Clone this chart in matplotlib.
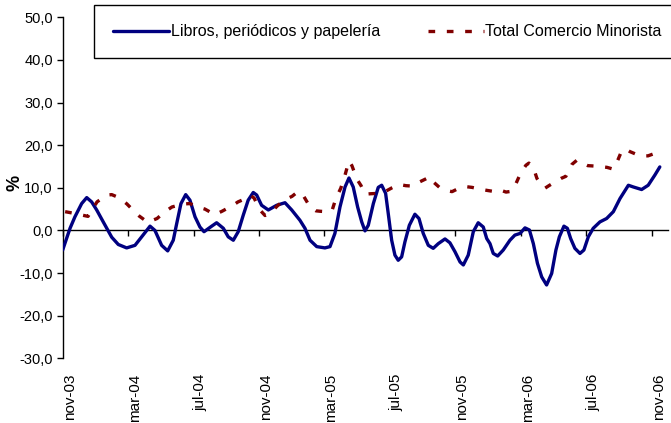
import matplotlib
matplotlib.use("Agg")
import matplotlib.pyplot as plt
from matplotlib.ticker import FuncFormatter

plt.rcParams['font.family'] = ['Liberation Sans', 'DejaVu Sans']

# x positions are months elapsed since nov-03
tick_months = [0, 4, 8, 12, 16, 20, 24, 28, 32, 36]
tick_labels = ['nov-03', 'mar-04', 'jul-04', 'nov-04', 'mar-05',
               'jul-05', 'nov-05', 'mar-06', 'jul-06', 'nov-06']

libros_x = [0.0, 0.45, 0.75, 1.16, 1.47, 1.77, 2.08, 2.48, 3.0, 3.4, 3.91, 4.42, 4.83,
            5.34, 5.64, 6.05, 6.42, 6.76, 6.97, 7.23, 7.52, 7.78, 8.09, 8.39, 8.64,
            9.11, 9.41, 9.82, 10.12, 10.43, 10.73, 11.04, 11.34, 11.65, 11.86, 12.16,
            12.57, 13.08, 13.59, 14.0, 14.5, 14.81, 15.12, 15.53, 16.03, 16.34, 16.64,
            16.95, 17.26, 17.5, 17.76, 18.03, 18.28, 18.48, 18.68, 18.99, 19.29, 19.5,
            19.74, 19.9, 20.11, 20.31, 20.51, 20.72, 20.92, 21.19, 21.53, 21.78, 22.04,
            22.35, 22.65, 22.96, 23.37, 23.67, 23.98, 24.29, 24.49, 24.79, 25.1, 25.4,
            25.71, 25.92, 26.12, 26.32, 26.59, 26.93, 27.34, 27.64, 27.96, 28.26, 28.53,
            28.77, 29.02, 29.28, 29.58, 29.89, 30.15, 30.36, 30.64, 30.85, 31.05, 31.31,
            31.62, 31.86, 32.13, 32.43, 32.84, 33.25, 33.66, 34.07, 34.58, 34.88, 35.39,
            35.79, 36.2, 36.5]
libros_y = [-4.6, 0.5, 3.2, 6.3, 7.7, 6.7, 4.8, 2.0, -1.6, -3.3, -4.1, -3.5, -1.5,
            1.0, 0.0, -3.5, -4.8, -2.3, 1.6, 6.3, 8.4, 7.1, 3.2, 0.8, -0.3,
            1.0, 1.8, 0.5, -1.5, -2.3, -0.3, 3.6, 7.1, 8.9, 8.3, 5.9,
            4.8, 5.9, 6.5, 4.8, 2.4, 0.5, -2.3, -3.8, -4.1, -3.8, -0.7,
            5.5, 10.2, 12.3, 10.2, 5.5, 2.0, -0.1, 1.2, 6.3, 10.1, 10.6,
            8.7, 4.0, -2.3, -5.8, -7.0, -6.2, -2.7, 1.2, 3.8, 2.8, -0.7,
            -3.5, -4.2, -3.1, -2.0, -2.9, -5.0, -7.4, -8.1, -5.8, -0.3, 1.8,
            0.8, -1.9, -3.1, -5.4, -6.0, -4.6, -2.3, -1.1, -0.7, 0.6, 0.1,
            -3.1, -7.7, -10.9, -12.8, -10.1, -4.6, -1.5, 1.0, 0.5, -1.9, -4.2,
            -5.4, -4.6, -1.5, 0.5, 2.0, 2.8, 4.4, 7.5, 10.6, 10.2, 9.6,
            10.6, 13.0, 14.9]

total_x = [0.15, 0.57, 1.55, 2.1, 2.71, 3.0, 3.5, 3.93, 4.42, 4.67, 5.2, 5.77, 6.25,
           6.68, 7.35, 7.78, 8.27, 8.7, 9.3, 9.74, 10.41, 10.72, 11.08, 11.45, 11.7,
           12.06, 12.37, 12.67, 13.16, 13.59, 14.02, 14.38, 14.69, 15.12, 15.48, 15.73,
           16.1, 16.46, 16.7, 17.0, 17.26, 17.5, 17.68, 17.99, 18.24, 18.48, 18.79,
           19.28, 19.7, 20.13, 20.56, 20.98, 21.41, 21.72, 22.15, 22.45, 22.71, 23.06,
           23.43, 23.8, 24.17, 24.59, 25.02, 25.5, 25.93, 26.42, 26.73, 27.1, 27.46,
           27.71, 28.01, 28.32, 28.5, 28.75, 28.99, 29.24, 29.48, 29.72, 30.15, 30.46,
           30.76, 31.13, 31.44, 31.74, 32.1, 32.54, 32.84, 33.27, 33.64, 33.88, 34.12,
           34.37, 34.67, 35.04, 35.41, 35.78, 36.14, 36.57]
total_y = [4.4, 4.1, 3.3, 6.7, 8.3, 8.4, 7.6, 6.2, 4.3, 3.4, 1.9, 2.8, 4.4,
           5.5, 6.2, 6.3, 5.5, 5.0, 3.7, 4.5, 5.9, 6.7, 7.3, 8.3, 7.6,
           4.8, 3.5, 4.0, 5.9, 7.2, 8.0, 9.1, 8.3, 5.5, 4.6, 4.5,
           4.4, 4.6, 7.5, 9.9, 13.0, 16.3, 15.2, 12.0, 10.5, 8.5, 8.6,
           8.7, 9.1, 10.0, 10.8, 10.5, 10.4, 11.2, 12.0, 12.6, 11.2, 10.0,
           9.4, 9.1, 9.8, 10.3, 10.1, 9.7, 9.4, 9.1, 9.5, 9.0, 9.2,
           11.0, 13.6, 15.3, 15.8, 15.0, 12.2, 10.8, 9.9, 10.5, 11.5, 12.2,
           12.7, 15.5, 16.5, 15.8, 15.2, 15.1, 15.0, 14.8, 14.4, 16.0, 18.2,
           19.2, 18.5, 17.9, 17.5, 17.5, 18.0, 18.5]

series_names = ['Libros, periódicos y papelería', 'Total Comercio Minorista']
y_label = '%'

fig = plt.figure(figsize=(6.71, 4.23), dpi=100)
ax = fig.add_axes([0.0934, 0.153, 0.9021, 0.806])

ax.plot(libros_x, libros_y, color='#000080', lw=2.4, solid_joinstyle='round',
        solid_capstyle='round', label=series_names[0], zorder=3)
ax.plot(total_x, total_y, color='#800000', lw=2.4, linestyle=(0, (2.0, 3.5)),
        label=series_names[1], zorder=4)

ax.set_xlim(0, 37)
ax.set_ylim(-30, 50)
ax.set_yticks(range(-30, 51, 10))
ax.yaxis.set_major_formatter(FuncFormatter(lambda v, p: f"{v:.1f}".replace('.', ',')))
ax.tick_params(axis='y', direction='out', length=4, width=1, labelsize=10.5, pad=3)

for s in ['top', 'right']:
    ax.spines[s].set_visible(False)
ax.spines['left'].set_linewidth(1)
ax.spines['bottom'].set_position(('data', 0))
ax.spines['bottom'].set_linewidth(1)
ax.set_xticks(tick_months)
ax.tick_params(axis='x', direction='out', length=4, width=1, labelbottom=False)

sec = ax.secondary_xaxis(0.0)
sec.set_xticks(tick_months)
sec.set_xticklabels(tick_labels, rotation=90, ha='left', va='top', fontsize=11)
sec.tick_params(axis='x', length=0, pad=11)
sec.spines['bottom'].set_visible(False)

fig.text(15 / 671, 1 - 183 / 423, y_label, rotation=90, fontsize=13,
         fontweight='bold', ha='center', va='center')

leg = ax.legend(loc='upper left', bbox_to_anchor=(94 / 671, 1 - 5 / 423),
                bbox_transform=fig.transFigure, ncol=2, fontsize=11.5,
                frameon=True, fancybox=False, framealpha=1, edgecolor='black',
                borderpad=1.2, handlelength=3.5, handletextpad=0.1,
                columnspacing=3.0, borderaxespad=0)
leg.get_frame().set_linewidth(1)

fig.savefig('out.png', dpi=100)
